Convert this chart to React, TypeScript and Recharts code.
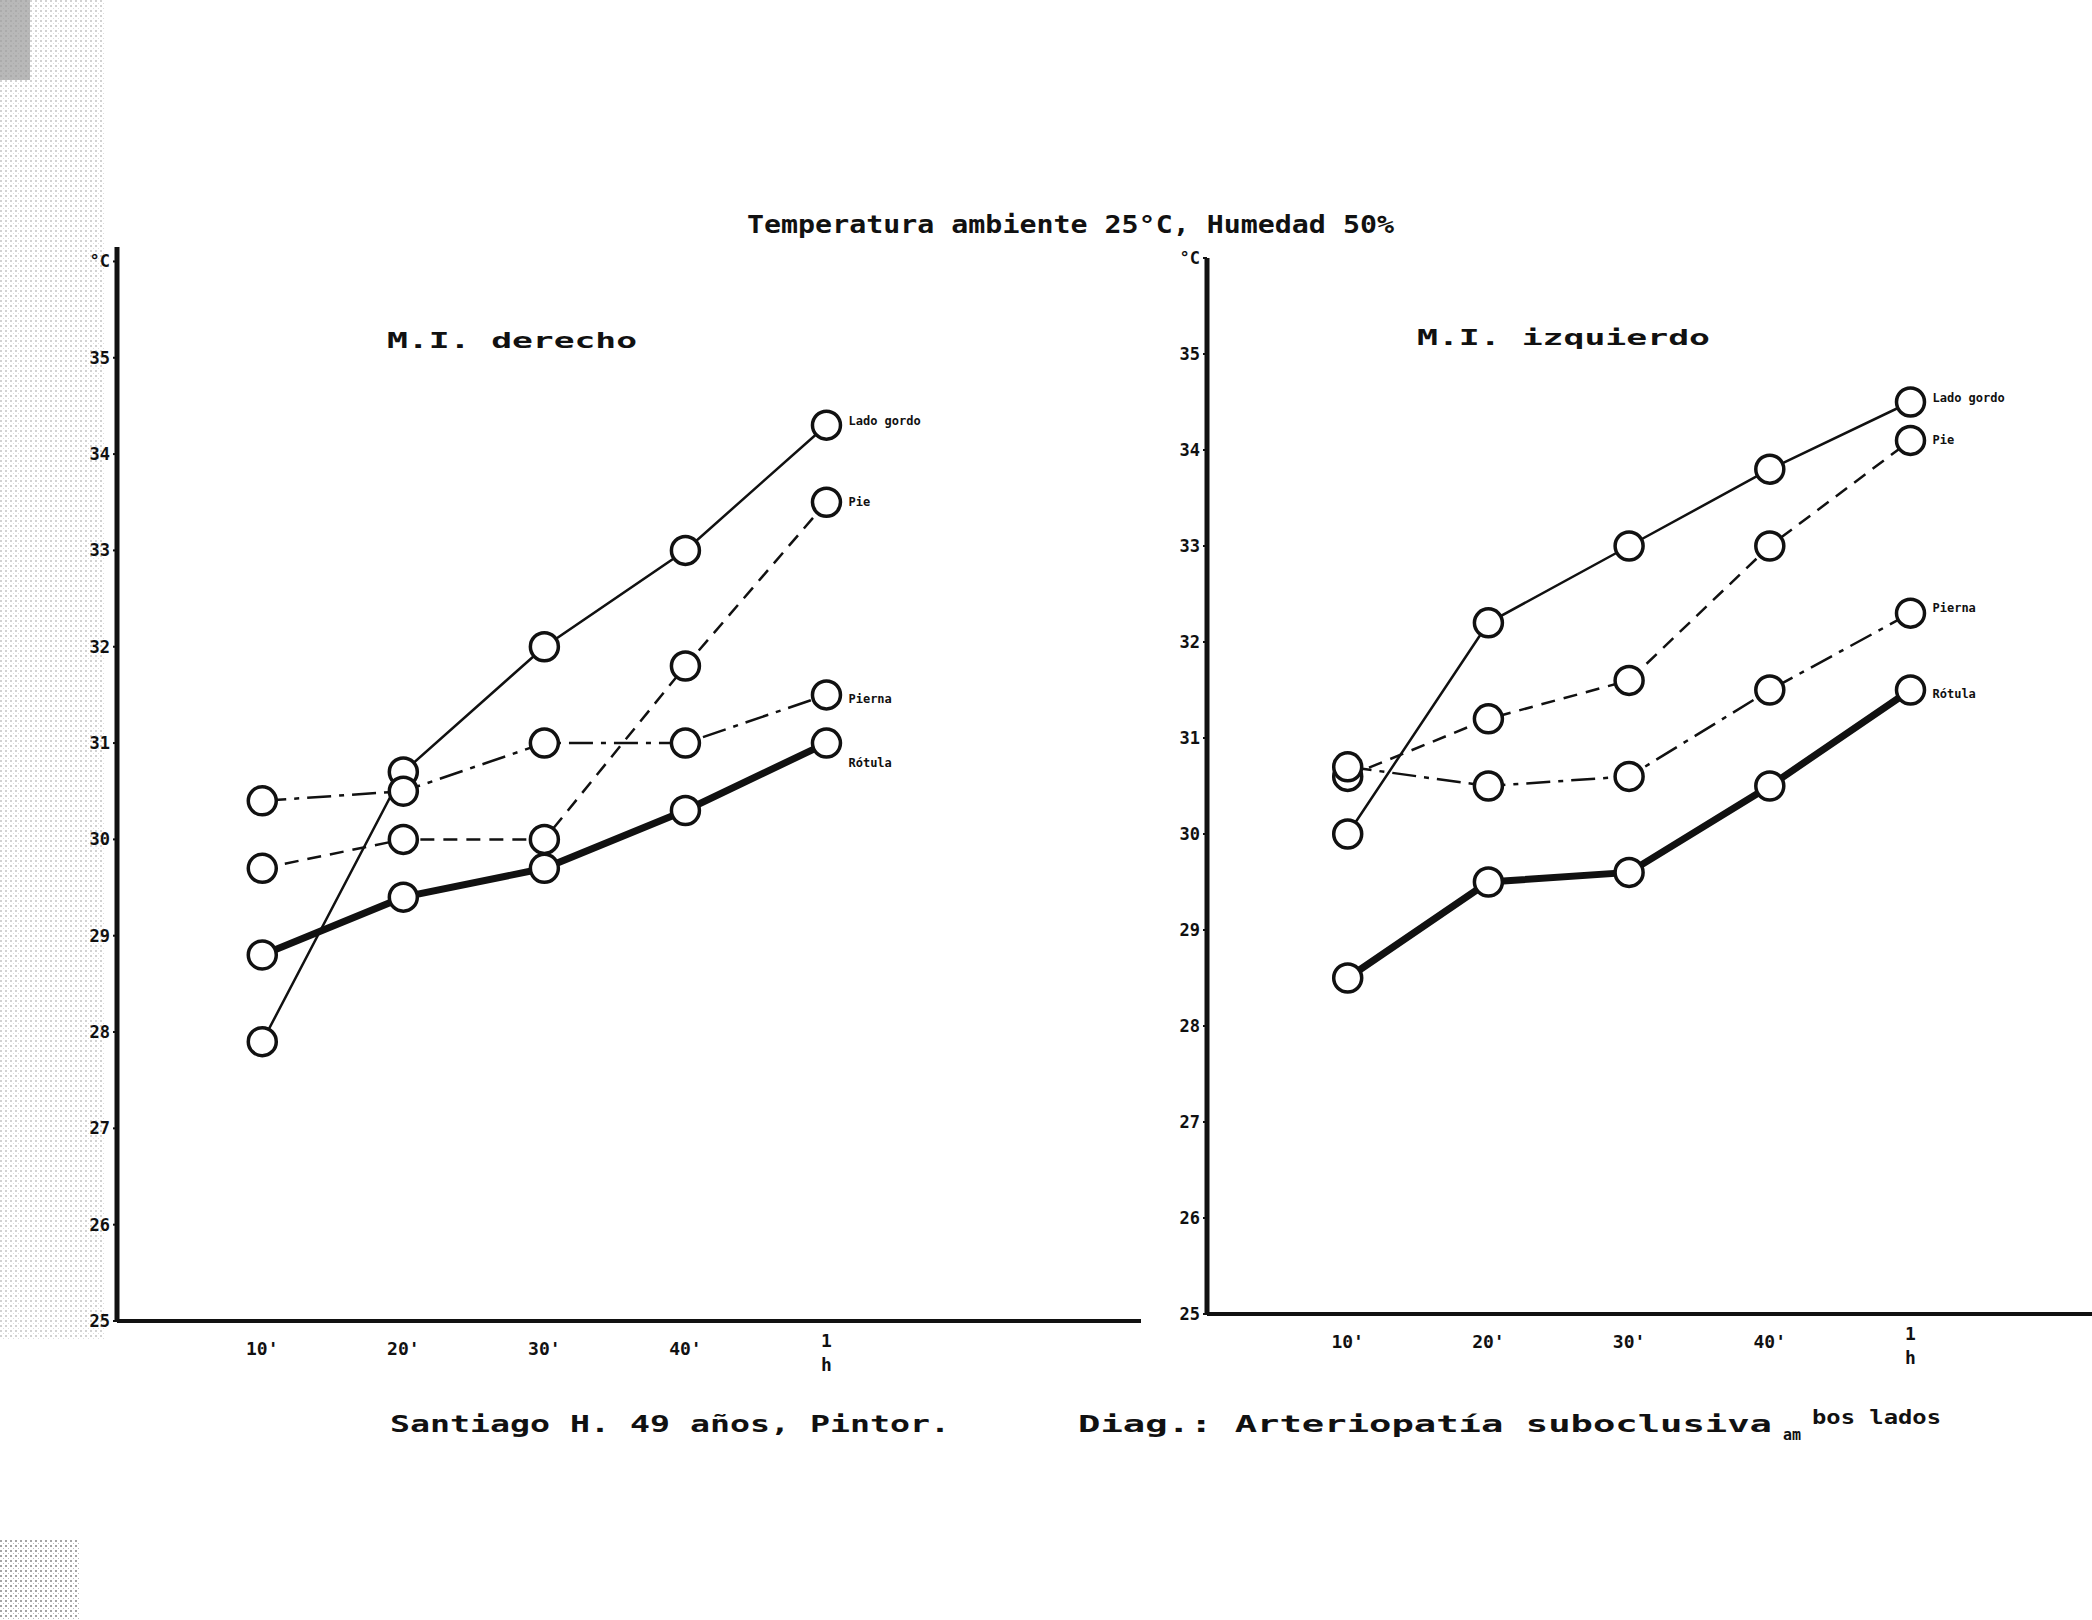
import { LineChart, Line, XAxis, YAxis } from 'recharts'

const MINUTES = [10, 20, 30, 40, 50]
const MINUTE_LABELS = ["10'", "20'", "30'", "40'", '1h']
const TEMP_TICKS = [25, 26, 27, 28, 29, 30, 31, 32, 33, 34, 35, 36]
const SERIES = ['Lado gordo', 'Pie', 'Pierna', 'Rótula']

// M.I. derecho
const DER_LADO_GORDO = [27.9, 30.7, 32.0, 33.0, 34.3]
const DER_PIE = [29.7, 30.0, 30.0, 31.8, 33.5]
const DER_PIERNA = [30.4, 30.5, 31.0, 31.0, 31.5]
const DER_ROTULA = [28.8, 29.4, 29.7, 30.3, 31.0]

// M.I. izquierdo
const IZQ_LADO_GORDO = [30.0, 32.2, 33.0, 33.8, 34.5]
const IZQ_PIE = [30.6, 31.2, 31.6, 33.0, 34.1]
const IZQ_PIERNA = [30.7, 30.5, 30.6, 31.5, 32.3]
const IZQ_ROTULA = [28.5, 29.5, 29.6, 30.5, 31.5]

const FONT = '"DejaVu Sans Mono", "Liberation Mono", monospace'
const INK = '#111'

const LINE_STYLES = [
  { width: 2.5, dash: undefined },
  { width: 2.5, dash: '14 9' },
  { width: 2.5, dash: '24 8 5 8' },
  { width: 7, dash: undefined },
]

function buildRows(series: number[][]) {
  return MINUTES.map((m, i) => {
    const row: Record<string, number> = { m }
    SERIES.forEach((name, s) => { row[name] = series[s][i] })
    return row
  })
}

function TempTick({ x, y, payload }: any) {
  const v = payload.value
  return (
    <text x={x} y={y} dy={6} textAnchor="end" fontFamily={FONT} fontWeight="bold" fontSize={17} fill={INK}>
      {v === 36 ? '°C' : v}
    </text>
  )
}

function MinuteTick({ x, y, payload }: any) {
  const i = MINUTES.indexOf(payload.value)
  const label = MINUTE_LABELS[i] ?? ''
  if (i === MINUTES.length - 1) {
    // last label is typed vertically in the original
    return (
      <text x={x} y={y} textAnchor="middle" fontFamily={FONT} fontWeight="bold" fontSize={18} fill={INK}>
        {label.split('').map((c, k) => (
          <tspan key={k} x={x} dy={k === 0 ? 20 : 24}>{c}</tspan>
        ))}
      </text>
    )
  }
  return (
    <text x={x} y={y} dy={28} textAnchor="middle" fontFamily={FONT} fontWeight="bold" fontSize={18} fill={INK}>
      {label}
    </text>
  )
}

const endLabel = (name: string, dy: number) => (props: any) => {
  if (props.index !== MINUTES.length - 1) return <g />
  return (
    <text x={props.x + 22} y={props.y + dy + 4} fontFamily={FONT} fontWeight="bold" fontSize={12} fill={INK}>
      {name}
    </text>
  )
}

type PanelProps = {
  left: number
  width: number
  axisX: number
  plotTop: number
  baseline: number
  marginRight: number
  xDomain: [number, number]
  yMax: number
  series: number[][]
  labelDy: number[]
}

function Panel({ left, width, axisX, plotTop, baseline, marginRight, xDomain, yMax, series, labelDy }: PanelProps) {
  const height = 1400
  const xAxisHeight = 60
  const rows = buildRows(series)
  return (
    <div style={{ position: 'absolute', left, top: 0 }}>
      <LineChart
        width={width}
        height={height}
        data={rows}
        margin={{ top: plotTop, right: marginRight, left: 0, bottom: height - baseline - xAxisHeight }}
      >
        <XAxis
          dataKey="m"
          type="number"
          domain={xDomain}
          ticks={MINUTES}
          interval={0}
          allowDataOverflow
          height={xAxisHeight}
          tickLine={false}
          tickMargin={0}
          axisLine={{ stroke: INK, strokeWidth: 4 }}
          tick={<MinuteTick />}
        />
        <YAxis
          type="number"
          domain={[25, yMax]}
          ticks={TEMP_TICKS}
          interval={0}
          allowDataOverflow
          width={axisX}
          tickSize={4}
          tickMargin={3}
          tickLine={{ stroke: INK, strokeWidth: 2 }}
          axisLine={{ stroke: INK, strokeWidth: 5 }}
          tick={<TempTick />}
        />
        {SERIES.map((name, s) => (
          <Line
            key={name}
            type="linear"
            dataKey={name}
            stroke={INK}
            strokeWidth={LINE_STYLES[s].width}
            strokeDasharray={LINE_STYLES[s].dash}
            dot={{ r: 14, stroke: INK, strokeWidth: 3.5, fill: '#fff', strokeDasharray: 'none' }}
            activeDot={false}
            isAnimationActive={false}
            label={endLabel(name, labelDy[s])}
          />
        ))}
      </LineChart>
    </div>
  )
}

const textStyle = { fontFamily: FONT, fontWeight: 'bold' as const, fill: INK }

export default function App() {
  return (
    <div style={{ position: 'absolute', left: 0, top: 0, width: 2092, height: 1620, background: '#fff', overflow: 'hidden' }}>
      {/* faint scanner stipple along the left edge */}
      <svg width={2092} height={1620} style={{ position: 'absolute', left: 0, top: 0 }}>
        <defs>
          <pattern id="stipple" width={5} height={5} patternUnits="userSpaceOnUse">
            <rect x={0} y={0} width={2} height={2} fill="#9a9a9a" />
            <rect x={3} y={3} width={1} height={1} fill="#b5b5b5" />
          </pattern>
        </defs>
        <rect x={0} y={0} width={105} height={1340} fill="url(#stipple)" opacity={0.45} />
        <rect x={0} y={0} width={30} height={80} fill="#9a9a9a" opacity={0.7} />
        <rect x={0} y={1540} width={80} height={80} fill="url(#stipple)" opacity={0.9} />
      </svg>
      <Panel
        left={0}
        width={1160}
        axisX={117}
        plotTop={247}
        baseline={1321}
        marginRight={19}
        xDomain={[-0.3, 72.3]}
        yMax={36.15}
        series={[DER_LADO_GORDO, DER_PIE, DER_PIERNA, DER_ROTULA]}
        labelDy={[-4, 0, 4, 20]}
      />
      <Panel
        left={1090}
        width={1002}
        axisX={117}
        plotTop={258}
        baseline={1314}
        marginRight={0}
        xDomain={[0, 62.9]}
        yMax={36}
        series={[IZQ_LADO_GORDO, IZQ_PIE, IZQ_PIERNA, IZQ_ROTULA]}
        labelDy={[-4, 0, -5, 4]}
      />
      <svg width={2092} height={1620} style={{ position: 'absolute', left: 0, top: 0, pointerEvents: 'none' }}>
        <text x={747} y={233} fontSize={25} textLength={647} lengthAdjust="spacingAndGlyphs" {...textStyle}>
          Temperatura ambiente 25°C, Humedad 50%
        </text>
        <text x={387} y={348} fontSize={22} textLength={250} lengthAdjust="spacingAndGlyphs" {...textStyle}>
          M.I. derecho
        </text>
        <text x={1417} y={345} fontSize={22} textLength={293} lengthAdjust="spacingAndGlyphs" {...textStyle}>
          M.I. izquierdo
        </text>
        <text x={390} y={1432} fontSize={23} textLength={560} lengthAdjust="spacingAndGlyphs" {...textStyle}>
          Santiago H.  49 años,  Pintor.
        </text>
        <text x={1078} y={1432} fontSize={23} textLength={694} lengthAdjust="spacingAndGlyphs" {...textStyle}>
          Diag.: Arteriopatía suboclusiva
        </text>
        <text x={1783} y={1440} fontSize={15} {...textStyle}>am</text>
        <text x={1812} y={1424} fontSize={19} textLength={129} lengthAdjust="spacingAndGlyphs" {...textStyle}>
          bos lados
        </text>
      </svg>
    </div>
  )
}
